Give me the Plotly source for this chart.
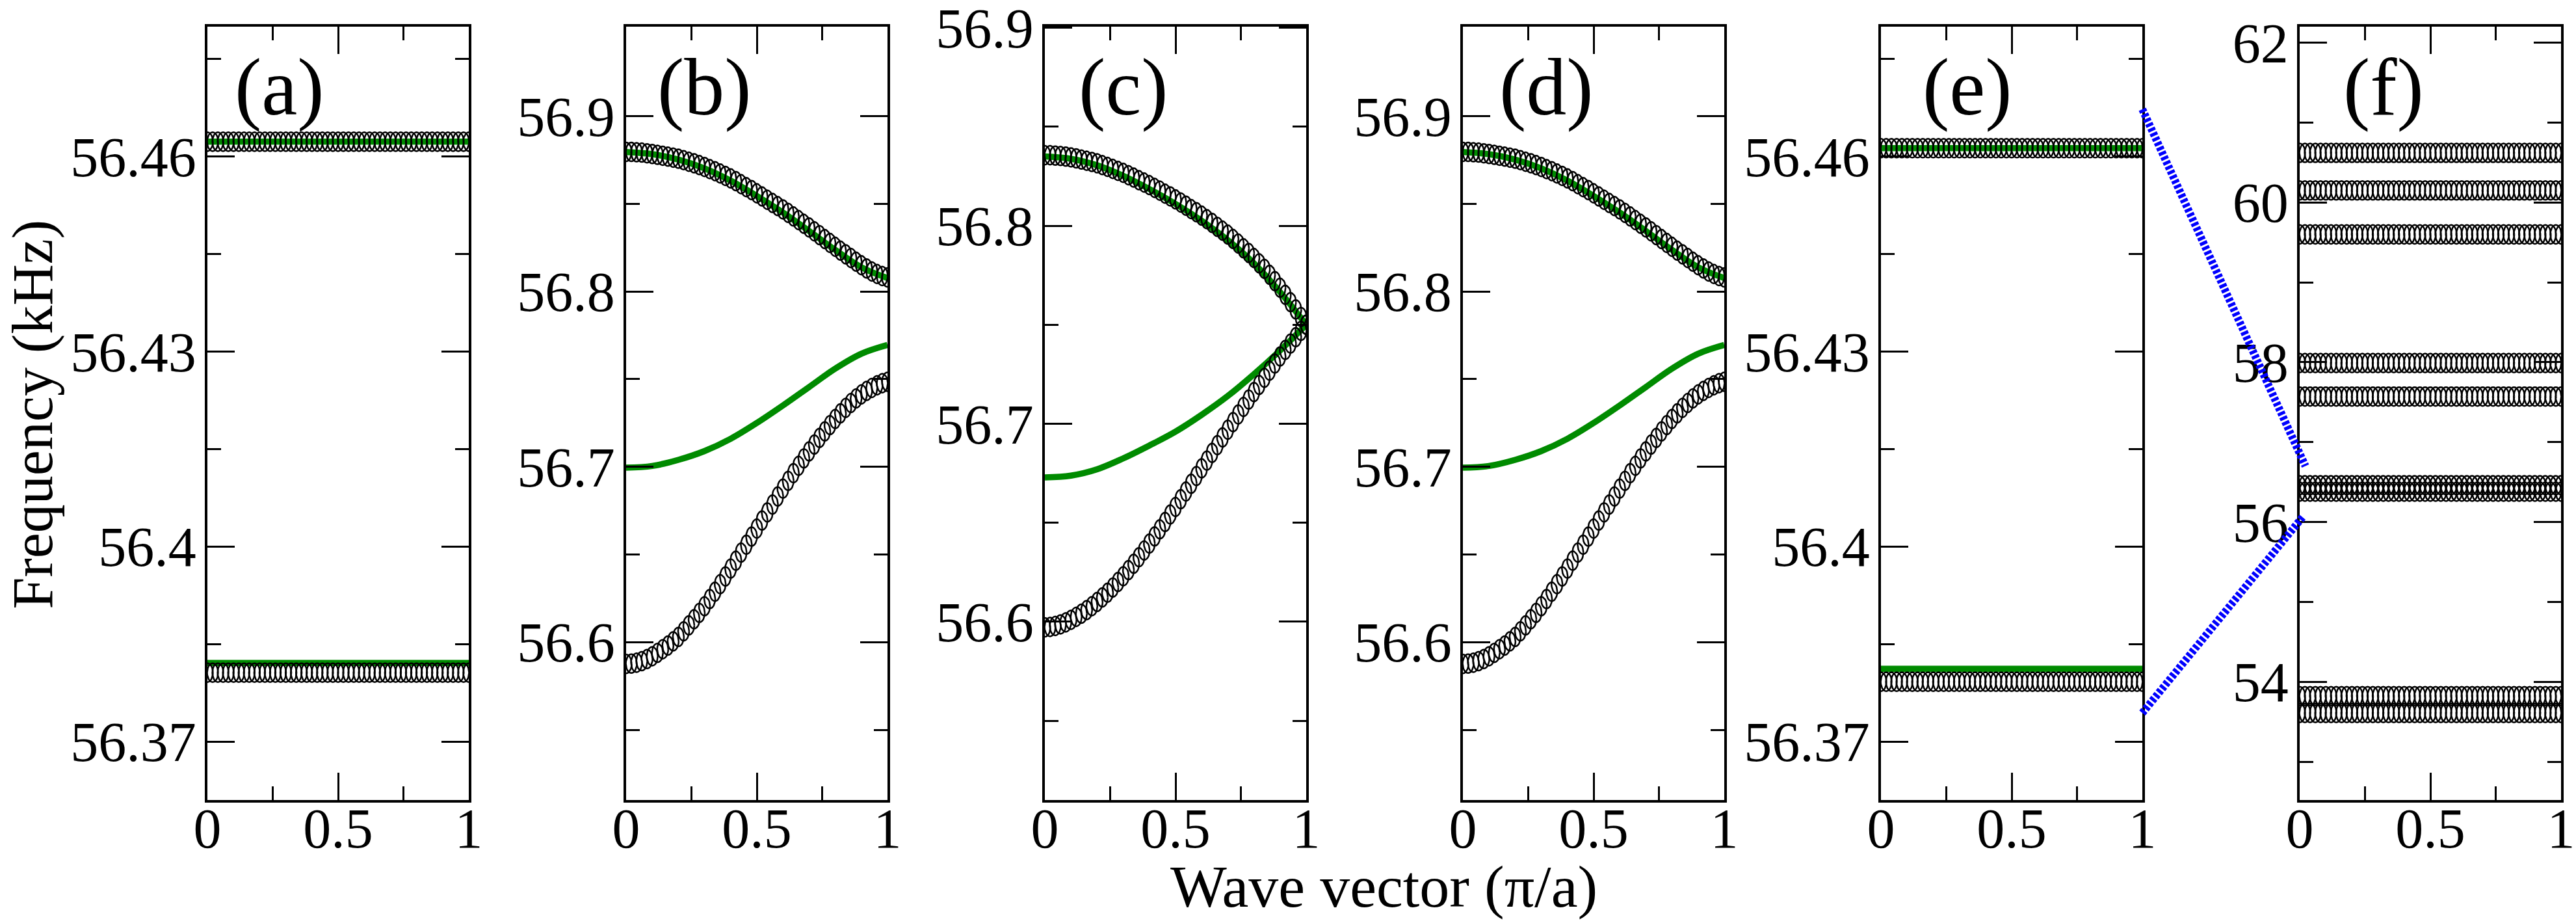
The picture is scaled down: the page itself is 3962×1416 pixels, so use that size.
import numpy as np
import plotly.graph_objects as go

# wave vector samples (pi/a)
K = [0.00, 0.02, 0.04, 0.06, 0.08, 0.10, 0.12, 0.14, 0.16, 0.18,
     0.20, 0.22, 0.24, 0.26, 0.28, 0.30, 0.32, 0.34, 0.36, 0.38,
     0.40, 0.42, 0.44, 0.46, 0.48, 0.50, 0.52, 0.54, 0.56, 0.58,
     0.60, 0.62, 0.64, 0.66, 0.68, 0.70, 0.72, 0.74, 0.76, 0.78,
     0.80, 0.82, 0.84, 0.86, 0.88, 0.90, 0.92, 0.94, 0.96, 0.98, 1.00]
K_LINE = [0.0, 0.1, 0.2, 0.3, 0.4, 0.5, 0.6, 0.7, 0.8, 0.9, 1.0]

# panels (b) and (d): circles
B_UPPER_DOTS = [56.8796, 56.8796, 56.8794, 56.8792, 56.8788, 56.8784, 56.8779, 56.8774, 56.8769, 56.8763,
                56.8757, 56.8749, 56.8740, 56.8731, 56.8721, 56.8710, 56.8698, 56.8686, 56.8673, 56.8659,
                56.8645, 56.8629, 56.8612, 56.8595, 56.8578, 56.8560, 56.8542, 56.8523, 56.8505, 56.8487,
                56.8468, 56.8448, 56.8428, 56.8407, 56.8386, 56.8365, 56.8343, 56.8321, 56.8299, 56.8277,
                56.8255, 56.8233, 56.8212, 56.8191, 56.8170, 56.8150, 56.8131, 56.8114, 56.8100, 56.8088, 56.8080]
B_LOWER_DOTS = [56.5876, 56.5878, 56.5883, 56.5892, 56.5904, 56.5920, 56.5939, 56.5960, 56.5981, 56.6005,
                56.6030, 56.6062, 56.6096, 56.6131, 56.6167, 56.6205, 56.6246, 56.6288, 56.6331, 56.6375,
                56.6420, 56.6465, 56.6511, 56.6556, 56.6602, 56.6648, 56.6694, 56.6740, 56.6785, 56.6831,
                56.6876, 56.6920, 56.6964, 56.7006, 56.7048, 56.7088, 56.7127, 56.7165, 56.7202, 56.7238,
                56.7273, 56.7305, 56.7336, 56.7364, 56.7390, 56.7413, 56.7433, 56.7450, 56.7465, 56.7477, 56.7485]
# panels (b) and (d): green curves
B_UPPER_LINE = [56.8795, 56.8783, 56.8752, 56.8702, 56.8632, 56.8545, 56.8450, 56.8345, 56.8237, 56.8138, 56.8076]
B_LOWER_LINE = [56.6995, 56.7005, 56.7040, 56.7090, 56.7160, 56.7250, 56.7350, 56.7455, 56.7560, 56.7645, 56.7695]

# panel (c)
C_UPPER_DOTS = [56.8356, 56.8356, 56.8354, 56.8352, 56.8349, 56.8345, 56.8340, 56.8334, 56.8328, 56.8322,
                56.8315, 56.8306, 56.8297, 56.8287, 56.8277, 56.8267, 56.8255, 56.8243, 56.8230, 56.8218,
                56.8205, 56.8191, 56.8177, 56.8162, 56.8148, 56.8133, 56.8117, 56.8101, 56.8084, 56.8068,
                56.8051, 56.8033, 56.8014, 56.7994, 56.7975, 56.7955, 56.7933, 56.7910, 56.7886, 56.7862,
                56.7837, 56.7810, 56.7782, 56.7752, 56.7720, 56.7687, 56.7651, 56.7614, 56.7577, 56.7539, 56.7500]
C_LOWER_DOTS = [56.5972, 56.5974, 56.5979, 56.5987, 56.5997, 56.6010, 56.6025, 56.6041, 56.6059, 56.6079,
                56.6100, 56.6123, 56.6147, 56.6173, 56.6201, 56.6230, 56.6261, 56.6293, 56.6326, 56.6360,
                56.6395, 56.6431, 56.6467, 56.6504, 56.6542, 56.6580, 56.6619, 56.6658, 56.6697, 56.6736,
                56.6775, 56.6814, 56.6853, 56.6892, 56.6931, 56.6970, 56.7008, 56.7047, 56.7085, 56.7122,
                56.7160, 56.7196, 56.7232, 56.7268, 56.7304, 56.7340, 56.7373, 56.7405, 56.7437, 56.7469, 56.7500]
C_UPPER_LINE = [56.8350, 56.8338, 56.8305, 56.8252, 56.8185, 56.8110, 56.8025, 56.7927, 56.7810, 56.7665, 56.7500]
C_LOWER_LINE = [56.6729, 56.6738, 56.6770, 56.6825, 56.6890, 56.6960, 56.7045, 56.7140, 56.7250, 56.7370, 56.7500]

# flat bands
A_DOT_BANDS = [56.4623, 56.3806]
A_LINE_BANDS = [56.4623, 56.3821]
E_DOT_BANDS = [56.4613, 56.3792]
E_LINE_BANDS = [56.4613, 56.3812]
F_DOT_BANDS = [60.62, 60.15, 59.60, 57.99, 57.57, 56.46, 56.38, 53.82, 53.61]

PANEL_LABELS = ["(a)", "(b)", "(c)", "(d)", "(e)", "(f)"]
LABEL_X = [0.275, 0.30, 0.30, 0.32, 0.33, 0.32]

Y_RANGES = [[56.361, 56.48], [56.51, 56.951], [56.51, 56.9005],
            [56.51, 56.951], [56.361, 56.48], [52.52, 62.2]]
TICKS_A = [56.37, 56.40, 56.43, 56.46]
TICKTEXT_A = ["56.37", "56.4", "56.43", "56.46"]
MINOR_A = [56.385, 56.415, 56.445, 56.475]
TICKS_B = [56.6, 56.7, 56.8, 56.9]
TICKTEXT_B = ["56.6", "56.7", "56.8", "56.9"]
MINOR_B = [56.55, 56.65, 56.75, 56.85]
TICKS_F = [54, 56, 58, 60, 62]
TICKTEXT_F = ["54", "56", "58", "60", "62"]
MINOR_F = [53, 55, 57, 59, 61]
X_TICKS = [0, 0.5, 1]
X_TICKTEXT = ["0", "0.5", "1"]
X_MINOR = [0.25, 0.75]

# zoom connectors: start in panel (e) data, end in panel (f) data
ZOOM_FROM = [(1.0, 56.4673), (1.0, 56.3744)]
ZOOM_TO = [(0.022, 56.70), (0.015, 56.077)]

W, H = 3962, 1416
PANEL_LEFT = [319, 963, 1607, 2250, 2893, 3537]
PANEL_W = 402
PLOT_TOP, PLOT_BOTTOM = 41, 1230
FONT = "Liberation Serif"
GREEN = "rgb(0,139,0)"
# symbol outline: tall open ellipse (half-width, half-height in px)
RX_PX, RY_PX = 8.5, 14.5
THETA = np.linspace(0, 2 * np.pi, 25)

y_ticks = [(TICKS_A, TICKTEXT_A, MINOR_A), (TICKS_B, TICKTEXT_B, MINOR_B), (TICKS_B, TICKTEXT_B, MINOR_B),
           (TICKS_B, TICKTEXT_B, MINOR_B), (TICKS_A, TICKTEXT_A, MINOR_A), (TICKS_F, TICKTEXT_F, MINOR_F)]
ydom = [1 - PLOT_BOTTOM / H, 1 - PLOT_TOP / H]


def sfx(i):
    return "" if i == 1 else str(i)


fig = go.Figure()


def add_line(i, x, y, shape="spline"):
    fig.add_trace(go.Scatter(x=x, y=y, mode="lines", xaxis=f"x{sfx(i)}", yaxis=f"y{sfx(i)}",
                             line=dict(color=GREEN, width=9.5, shape=shape), showlegend=False,
                             hoverinfo="skip"))


def add_dots(i, xs, ys):
    # open ellipses around every (k, f) point, sized in pixels through the axis scale
    lo, hi = Y_RANGES[i - 1]
    sx = RX_PX / PANEL_W
    sy = RY_PX * (hi - lo) / (PLOT_BOTTOM - PLOT_TOP)
    ex, ey = [], []
    for x, y in zip(xs, ys):
        ex.extend(list(x + sx * np.cos(THETA)) + [None])
        ey.extend(list(y + sy * np.sin(THETA)) + [None])
    fig.add_trace(go.Scatter(x=ex, y=ey, mode="lines", xaxis=f"x{sfx(i)}", yaxis=f"y{sfx(i)}",
                             cliponaxis=False, line=dict(color="black", width=2.5),
                             showlegend=False, hoverinfo="skip"))


# (a)
for v in A_LINE_BANDS:
    add_line(1, [0, 1], [v, v], "linear")
for v in A_DOT_BANDS:
    add_dots(1, K, [v] * len(K))
# (b) and (d)
for i in (2, 4):
    add_line(i, K_LINE, B_UPPER_LINE)
    add_line(i, K_LINE, B_LOWER_LINE)
    add_dots(i, K, B_UPPER_DOTS)
    add_dots(i, K, B_LOWER_DOTS)
# (c)
add_line(3, K_LINE, C_UPPER_LINE)
add_line(3, K_LINE, C_LOWER_LINE)
add_dots(3, K, C_UPPER_DOTS)
add_dots(3, K, C_LOWER_DOTS)
# (e)
for v in E_LINE_BANDS:
    add_line(5, [0, 1], [v, v], "linear")
for v in E_DOT_BANDS:
    add_dots(5, K, [v] * len(K))
# (f)
for v in F_DOT_BANDS:
    add_dots(6, K, [v] * len(K))

axis_common = dict(showline=True, linecolor="black", linewidth=4, mirror="allticks",
                   ticks="inside", ticklen=42, tickwidth=3, tickcolor="black",
                   showgrid=False, zeroline=False, automargin=False, ticklabeloverflow="allow",
                   tickfont=dict(family=FONT, size=86, color="black"))
layout = {}
for n in range(6):
    i = n + 1
    left = PANEL_LEFT[n]
    tv, tt, mv = y_ticks[n]
    layout[f"xaxis{sfx(i)}"] = dict(axis_common, domain=[left / W, (left + PANEL_W) / W], range=[0, 1],
                                    anchor=f"y{sfx(i)}", tickmode="array", tickvals=X_TICKS,
                                    ticktext=X_TICKTEXT, ticklabelstandoff=-34,
                                    minor=dict(ticks="inside", ticklen=21, tickwidth=3, tickcolor="black",
                                               tickvals=X_MINOR))
    layout[f"yaxis{sfx(i)}"] = dict(axis_common, domain=ydom, range=Y_RANGES[n], anchor=f"x{sfx(i)}",
                                    tickmode="array", tickvals=tv, ticktext=tt, ticklabelstandoff=-4,
                                    minor=dict(ticks="inside", ticklen=21, tickwidth=3, tickcolor="black",
                                               tickvals=mv))


def to_paper(i, x, y):
    n = i - 1
    left = PANEL_LEFT[n]
    lo, hi = Y_RANGES[n]
    px = left + x * PANEL_W
    py = PLOT_BOTTOM - (y - lo) / (hi - lo) * (PLOT_BOTTOM - PLOT_TOP)
    return px / W, 1 - py / H


shapes = []
for (x0, y0), (x1, y1) in zip(ZOOM_FROM, ZOOM_TO):
    a0 = to_paper(5, x0, y0)
    a1 = to_paper(6, x1, y1)
    shapes.append(dict(type="line", xref="paper", yref="paper", x0=a0[0], y0=a0[1], x1=a1[0], y1=a1[1],
                       line=dict(color="blue", width=12, dash="5px,3px")))

annotations = []
for n, lab in enumerate(PANEL_LABELS):
    annotations.append(dict(text=lab, xref=f"x{sfx(n + 1)} domain", yref="paper", x=LABEL_X[n],
                            y=1 - 135 / H, showarrow=False, xanchor="center", yanchor="middle",
                            font=dict(family=FONT, size=124, color="black")))
annotations.append(dict(text="Frequency (kHz)", xref="paper", yref="paper", x=0, y=1 - 637 / H,
                        textangle=-90, showarrow=False, xanchor="left", yanchor="middle",
                        font=dict(family=FONT, size=88, color="black")))
annotations.append(dict(text="Wave vector (π/a)", xref="paper", yref="paper", x=2128 / W, y=0,
                        showarrow=False, xanchor="center", yanchor="bottom",
                        font=dict(family=FONT, size=92, color="black")))

fig.update_layout(width=W, height=H, margin=dict(l=0, r=0, t=0, b=0),
                  paper_bgcolor="white", plot_bgcolor="white",
                  shapes=shapes, annotations=annotations, **layout)

fig.write_html("out.html", config={"displayModeBar": False},
               post_script="document.body.style.margin='0';document.body.style.overflow='hidden';")
